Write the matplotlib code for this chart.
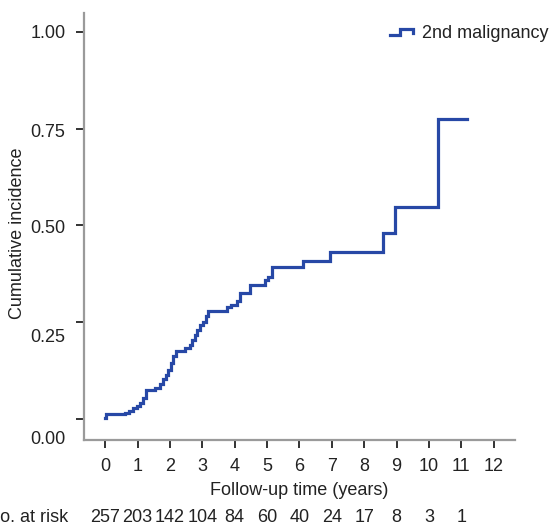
import matplotlib
matplotlib.use("Agg")
import matplotlib.pyplot as plt
from matplotlib.lines import Line2D
from matplotlib.legend_handler import HandlerBase
from matplotlib.ticker import FixedLocator, FixedFormatter
import matplotlib.transforms as mtrans

plt.rcParams['font.family'] = ['Liberation Sans', 'DejaVu Sans']

# ---- data ----
event_times = [0.0, 0.03, 0.62, 0.74, 0.86, 0.98, 1.07, 1.17, 1.25, 1.53, 1.69,
               1.79, 1.87, 1.94, 2.02, 2.10, 2.18, 2.46, 2.62, 2.67, 2.77, 2.85,
               2.92, 3.03, 3.10, 3.18, 3.75, 3.90, 4.06, 4.16, 4.47, 4.93, 5.04,
               5.14, 6.12, 6.94, 8.59, 8.95, 10.29, 11.19]
cum_incidence = [0.003, 0.013, 0.016, 0.022, 0.028, 0.035, 0.043, 0.055, 0.075,
                 0.080, 0.090, 0.103, 0.115, 0.128, 0.145, 0.162, 0.176, 0.183,
                 0.192, 0.204, 0.217, 0.230, 0.243, 0.252, 0.265, 0.278, 0.289,
                 0.295, 0.305, 0.326, 0.346, 0.359, 0.368, 0.393, 0.409, 0.432,
                 0.480, 0.547, 0.774, 0.774]
series_label = "2nd malignancy"
x_ticks = list(range(0, 13))
y_ticks = [0.0, 0.25, 0.50, 0.75, 1.00]
y_tick_labels = ["0.00", "0.25", "0.50", "0.75", "1.00"]
risk_times = list(range(0, 12))
at_risk = [257, 203, 142, 104, 84, 60, 40, 24, 17, 8, 3, 1]

# ---- layout ----
W, H = 555, 527
FS = 13
TXT = "#222222"
fig = plt.figure(figsize=(W / 100, H / 100), dpi=100)
ax = fig.add_axes([83.5 / W, (H - 440.4) / H, 431.5 / W, 427.4 / H])
ax.set_xlim(-0.67, 12.66)
ax.set_ylim(-0.0547, 1.048)

line_color = "#2748a6"
ax.step(event_times, cum_incidence, where="post", color=line_color, lw=2.3,
        solid_joinstyle="miter")

for s in ["top", "right"]:
    ax.spines[s].set_visible(False)
for s in ["left", "bottom"]:
    ax.spines[s].set_color("#9a9a9a")
    ax.spines[s].set_linewidth(1.6)

ax.set_xticks(x_ticks)
ax.set_xticklabels([str(t) for t in x_ticks], fontsize=FS, color=TXT)
ax.tick_params(axis="x", length=6, width=1.4, color="#333333", pad=7)

# y: tick marks at values, labels placed slightly offset (as in the reference)
label_offsets = [-0.046, 0.217, 0.498, 0.746, 1.0]
ax.yaxis.remove_overlapping_locs = False
ax.yaxis.set_major_locator(FixedLocator(y_ticks))
ax.tick_params(axis="y", which="major", length=6, width=1.4, color="#333333",
               labelleft=False)
ax.yaxis.set_minor_locator(FixedLocator(label_offsets))
ax.yaxis.set_minor_formatter(FixedFormatter(y_tick_labels))
ax.tick_params(axis="y", which="minor", length=0, pad=13, labelsize=FS,
               labelcolor=TXT)

ax.set_xlabel("Follow-up time (years)", fontsize=FS, color=TXT, labelpad=5)
fig.text(18 / W, 1 - 233 / H, "Cumulative incidence", rotation=90, fontsize=FS,
         color=TXT, ha="center", va="center")

# number at risk row
risk_tr = mtrans.blended_transform_factory(ax.transData, fig.transFigure)
for t, n in zip(risk_times, at_risk):
    ax.text(t, 1 - 517 / H, str(n), transform=risk_tr, ha="center", va="center",
            fontsize=FS, color=TXT)
fig.text(68 / W, 1 - 517 / H, "No. at risk", ha="right", va="center", fontsize=FS,
         color=TXT)


class StepHandler(HandlerBase):
    def create_artists(self, legend, orig_handle, xdescent, ydescent, width,
                       height, fontsize, trans):
        x0 = -xdescent
        y0 = -ydescent
        xs = [x0, x0 + 0.45 * width, x0 + 0.45 * width, x0 + width, x0 + width]
        ys = [y0 + 0.25 * height, y0 + 0.25 * height, y0 + 0.75 * height,
              y0 + 0.75 * height, y0 + 0.45 * height]
        ln = Line2D(xs, ys, color=orig_handle.get_color(), lw=2.3,
                    solid_joinstyle="miter", transform=trans)
        return [ln]


handle = Line2D([], [], color=line_color)
leg = fig.legend([handle], [series_label], loc="center left",
                 bbox_to_anchor=(390 / W, 1 - 34 / H), frameon=False,
                 fontsize=FS, handlelength=1.25, handletextpad=0.5,
                 borderpad=0, borderaxespad=0,
                 handler_map={Line2D: StepHandler()})
for t in leg.get_texts():
    t.set_color(TXT)

fig.savefig("out.png", dpi=100)
